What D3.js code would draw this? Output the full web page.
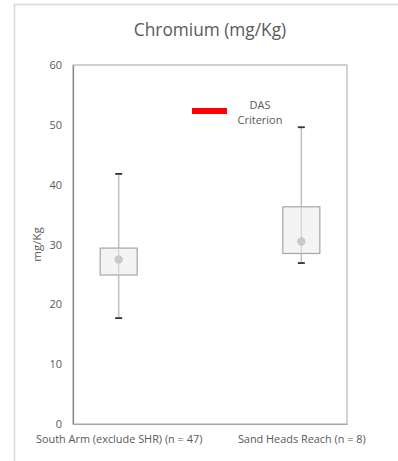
<!DOCTYPE html>
<html><head><meta charset="utf-8">
<script src="https://cdn.jsdelivr.net/npm/d3@7"></script>
<style>body{margin:0;background:#fff;}svg{display:block;font-family:"Open Sans",sans-serif;}</style>
</head><body><svg id="c" width="398" height="461"></svg>
<script>
const categories = ["South Arm (exclude SHR) (n = 47)", "Sand Heads Reach (n = 8)"];
const whiskerLow = [17.7, 26.9];
const q1 = [24.9, 28.5];
const q3 = [29.4, 36.3];
const whiskerHigh = [41.8, 49.6];
const mean = [27.5, 30.5];
const yTicks = [0, 10, 20, 30, 40, 50, 60];
const legendLabel = ["DAS", "Criterion"];

const FONT = "'Open Sans',sans-serif";
const svg = d3.select("#c");
const m = {l: 73, r: 347, t: 65, b: 424};
const x = d3.scalePoint().domain(categories).range([m.l, m.r]).padding(0.25);
const y = d3.scaleLinear().domain([0, 60]).range([m.b, m.t]);
const txt = "#595959";

// outer frame
svg.append("rect").attr("x", 14.5).attr("y", 4.5).attr("width", 400).attr("height", 470)
  .attr("fill", "#fff").attr("stroke", "#d9d9d9").attr("stroke-width", 1.5);

svg.append("text").attr("x", 210).attr("y", 36).attr("text-anchor", "middle")
  .attr("font-size", 17.3).attr("fill", txt).text("Chromium (mg/Kg)");

// plot border
svg.append("rect").attr("x", m.l).attr("y", m.t).attr("width", m.r - m.l).attr("height", m.b - m.t)
  .attr("fill", "none").attr("stroke", "#a6a6a6").attr("stroke-width", 1);

// y axis
const ya = svg.append("g").attr("transform", `translate(${m.l},0)`)
  .call(d3.axisLeft(y).tickValues(yTicks).tickSize(0).tickPadding(11));
ya.select(".domain").attr("stroke", "#888").attr("stroke-width", 1.2);
ya.selectAll("text").attr("fill", txt).attr("font-size", 11).attr("font-family", FONT);

// x axis labels
const xa = svg.append("g").attr("transform", `translate(0,${m.b})`)
  .call(d3.axisBottom(x).tickSize(0).tickPadding(11));
xa.select(".domain").attr("stroke", "#a6a6a6");
xa.selectAll("text").attr("fill", txt).attr("font-size", 10.9).attr("font-family", FONT);

// y label
svg.append("text").attr("transform", `translate(41,${(m.t + m.b) / 2}) rotate(-90)`)
  .attr("text-anchor", "middle").attr("font-size", 11.5).attr("fill", txt).text("mg/Kg");

const idx = d3.range(categories.length);
const bw = 37;
const g = svg.append("g");
g.selectAll(".wl").data(idx).join("line")
  .attr("x1", i => x(categories[i])).attr("x2", i => x(categories[i]))
  .attr("y1", i => y(whiskerLow[i])).attr("y2", i => y(whiskerHigh[i]))
  .attr("stroke", "#bfbfbf").attr("stroke-width", 1.5);
g.selectAll(".bx").data(idx).join("rect")
  .attr("x", i => x(categories[i]) - bw / 2).attr("width", bw)
  .attr("y", i => y(q3[i])).attr("height", i => y(q1[i]) - y(q3[i]))
  .attr("fill", "#f2f2f2").attr("fill-opacity", 0.85).attr("stroke", "#a6a6a6").attr("stroke-width", 1.2);
g.selectAll(".wl2").data(idx).join("line")
  .attr("x1", i => x(categories[i])).attr("x2", i => x(categories[i]))
  .attr("y1", i => y(q3[i])).attr("y2", i => y(q1[i]))
  .attr("stroke", "#d0d0d0").attr("stroke-width", 1);
[whiskerLow, whiskerHigh].forEach(arr => {
  g.selectAll(null).data(idx).join("line")
    .attr("x1", i => x(categories[i]) - 3.5).attr("x2", i => x(categories[i]) + 3.5)
    .attr("y1", i => y(arr[i])).attr("y2", i => y(arr[i]))
    .attr("stroke", "#333").attr("stroke-width", 1.8);
});
g.selectAll(".mn").data(idx).join("circle")
  .attr("cx", i => x(categories[i])).attr("cy", i => y(mean[i])).attr("r", 4.2)
  .attr("fill", "#c9c9c9");

// legend
svg.append("rect").attr("x", 192).attr("y", 108).attr("width", 35).attr("height", 6).attr("fill", "#ff0000");
svg.append("text").attr("x", 260).attr("y", 109).attr("text-anchor", "middle")
  .attr("font-size", 11).attr("fill", txt).text(legendLabel[0]);
svg.append("text").attr("x", 260).attr("y", 124).attr("text-anchor", "middle")
  .attr("font-size", 11).attr("fill", txt).text(legendLabel[1]);
</script></body></html>
